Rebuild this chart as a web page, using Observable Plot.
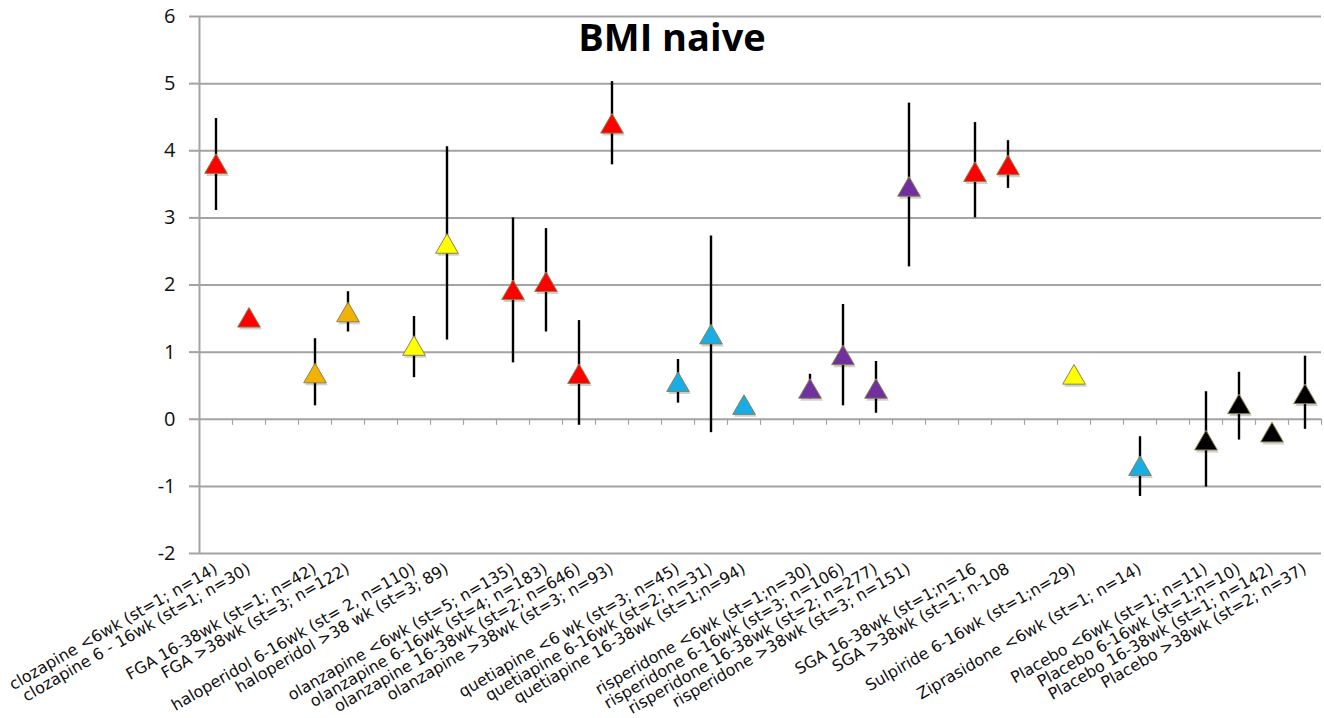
<!DOCTYPE html>
<html>
<head>
<meta charset="utf-8">
<script src="https://cdn.jsdelivr.net/npm/d3@7"></script>
<script src="https://cdn.jsdelivr.net/npm/@observablehq/plot@0.6"></script>
<style>
  html, body { margin: 0; padding: 0; background: #fff; }
  #chart svg { display: block; }
</style>
</head>
<body>
<div id="chart"></div>
<script>
// ---- data ----
const title = "BMI naive";
const tickLabels = [
  "clozapine <6wk (st=1; n=14)",
  "clozapine 6 - 16wk (st=1; n=30)",
  "",
  "FGA 16-38wk (st=1; n=42)",
  "FGA >38wk (st=3; n=122)",
  "",
  "haloperidol 6-16wk (st= 2, n=110)",
  "haloperidol >38 wk (st=3; 89)",
  "",
  "olanzapine <6wk (st=5; n=135)",
  "olanzapine 6-16wk (st=4; n=183)",
  "olanzapine 16-38wk (st=2; n=646)",
  "olanzapine >38wk (st=3; n=93)",
  "",
  "quetiapine <6 wk (st=3; n=45)",
  "quetiapine 6-16wk (st=2; n=31)",
  "quetiapine 16-38wk (st=1;n=94)",
  "",
  "risperidone <6wk (st=1;n=30)",
  "risperidone 6-16wk (st=3; n=106)",
  "risperidone 16-38wk (st=2; n=277)",
  "risperidone >38wk (st=3; n=151)",
  "",
  "SGA 16-38wk (st=1;n=16",
  "SGA >38wk (st=1; n-108",
  "",
  "Sulpiride 6-16wk (st=1;n=29)",
  "",
  "Ziprasidone <6wk (st=1; n=14)",
  "",
  "Placebo <6wk (st=1; n=11)",
  "Placebo 6-16wk (st=1;n=10)",
  "Placebo 16-38wk (st=1; n=142)",
  "Placebo >38wk (st=2; n=37)"
];
// mean BMI change (null = empty slot)
const means = [3.76, 1.47, null, 0.64, 1.55, null, 1.05, 2.57, null,
  1.88, 2.00, 0.63, 4.36, null, 0.51, 1.22, 0.17, null,
  0.41, 0.91, 0.41, 3.42, null, 3.64, 3.74, null, 0.62, null, -0.74, null,
  -0.36, 0.18, -0.24, 0.33];
const lower = [3.11, null, null, 0.20, 1.30, null, 0.62, 1.18, null,
  0.84, 1.30, -0.09, 3.79, null, 0.24, -0.20, null, null,
  0.30, 0.20, 0.09, 2.27, null, 3.00, 3.44, null, null, null, -1.15, null,
  -1.01, -0.31, null, -0.15];
const upper = [4.48, null, null, 1.20, 1.90, null, 1.53, 4.06, null,
  3.00, 2.84, 1.47, 5.03, null, 0.89, 2.73, null, null,
  0.67, 1.71, 0.86, 4.71, null, 4.42, 4.15, null, null, null, -0.26, null,
  0.41, 0.70, null, 0.94];
const groups = ["clozapine","clozapine","","FGA","FGA","","haloperidol","haloperidol","",
  "olanzapine","olanzapine","olanzapine","olanzapine","","quetiapine","quetiapine","quetiapine","",
  "risperidone","risperidone","risperidone","risperidone","","SGA","SGA","","Sulpiride","","Ziprasidone","",
  "Placebo","Placebo","Placebo","Placebo"];
const groupColors = {
  clozapine: "#ff0000", FGA: "#f2b203", haloperidol: "#ffff00", olanzapine: "#ff0000",
  quetiapine: "#18ade6", risperidone: "#7030a0", SGA: "#ff0000", Sulpiride: "#ffff00",
  Ziprasidone: "#18ade6", Placebo: "#000000"
};
const yTicks = [-2, -1, 0, 1, 2, 3, 4, 5, 6];

// ---- build table ----
const idx = d3.range(tickLabels.length);
const rows = idx.map(i => ({i, v: means[i], lo: lower[i], hi: upper[i], color: groupColors[groups[i]]}));
const points = rows.filter(d => d.v != null);
const bars = rows.filter(d => d.lo != null && d.hi != null);

const W = 1324, H = 718, mL = 198, mR = 3, mT = 16, mB = 165;
const bw = (W - mL - mR) / idx.length;
const grid = "#a3a3a3";

const chart = Plot.plot({
  width: W, height: H,
  marginTop: mT, marginBottom: mB, marginLeft: mL, marginRight: mR,
  style: {background: "#fff", overflow: "visible"},
  x: {type: "band", domain: idx, padding: 0},
  y: {domain: [-2, 6]},
  color: {type: "identity"},
  marks: [
    Plot.gridY(yTicks, {stroke: grid, strokeOpacity: 1, strokeWidth: 2}),
    Plot.axisY(yTicks, {tickSize: 9, tickPadding: 14, stroke: grid, strokeWidth: 2,
      tickFormat: d => String(d),
      fontSize: 20, fontFamily: "'Open Sans', Lato, sans-serif", fill: "#111", label: null}),
    Plot.ruleX([0], {x: d => d, dx: -bw / 2, stroke: grid, strokeWidth: 2}),
    Plot.ruleX(idx, {x: d => d, y1: 0, y2: -0.09, dx: bw / 2, stroke: grid, strokeWidth: 1.2}),
    Plot.axisX({tickRotate: -30, tickSize: 0, tickPadding: 14, label: null,
      tickFormat: i => tickLabels[i], fontSize: 16, fontFamily: "'DejaVu Sans', Verdana, sans-serif", fill: "#111"}),
    Plot.ruleX(bars, {x: "i", y1: "lo", y2: "hi", stroke: "#000", strokeWidth: 2.4}),
    Plot.dot(points, {x: "i", y: "v", symbol: "triangle", r: 8.4, fill: "#000", fillOpacity: 0.18, dx: 1.5, dy: 2.5}),
    Plot.dot(points, {x: "i", y: "v", symbol: "triangle", r: 8.4, fill: "color", stroke: "#8b8250", strokeWidth: 1}),
    Plot.text([title], {frameAnchor: "top", dx: -88, dy: 22, lineAnchor: "middle",
      fontSize: 38, fontWeight: "bold", fontFamily: "'Open Sans', Lato, sans-serif", fill: "#000"})
  ]
});
document.getElementById("chart").append(chart);
</script>
</body>
</html>
